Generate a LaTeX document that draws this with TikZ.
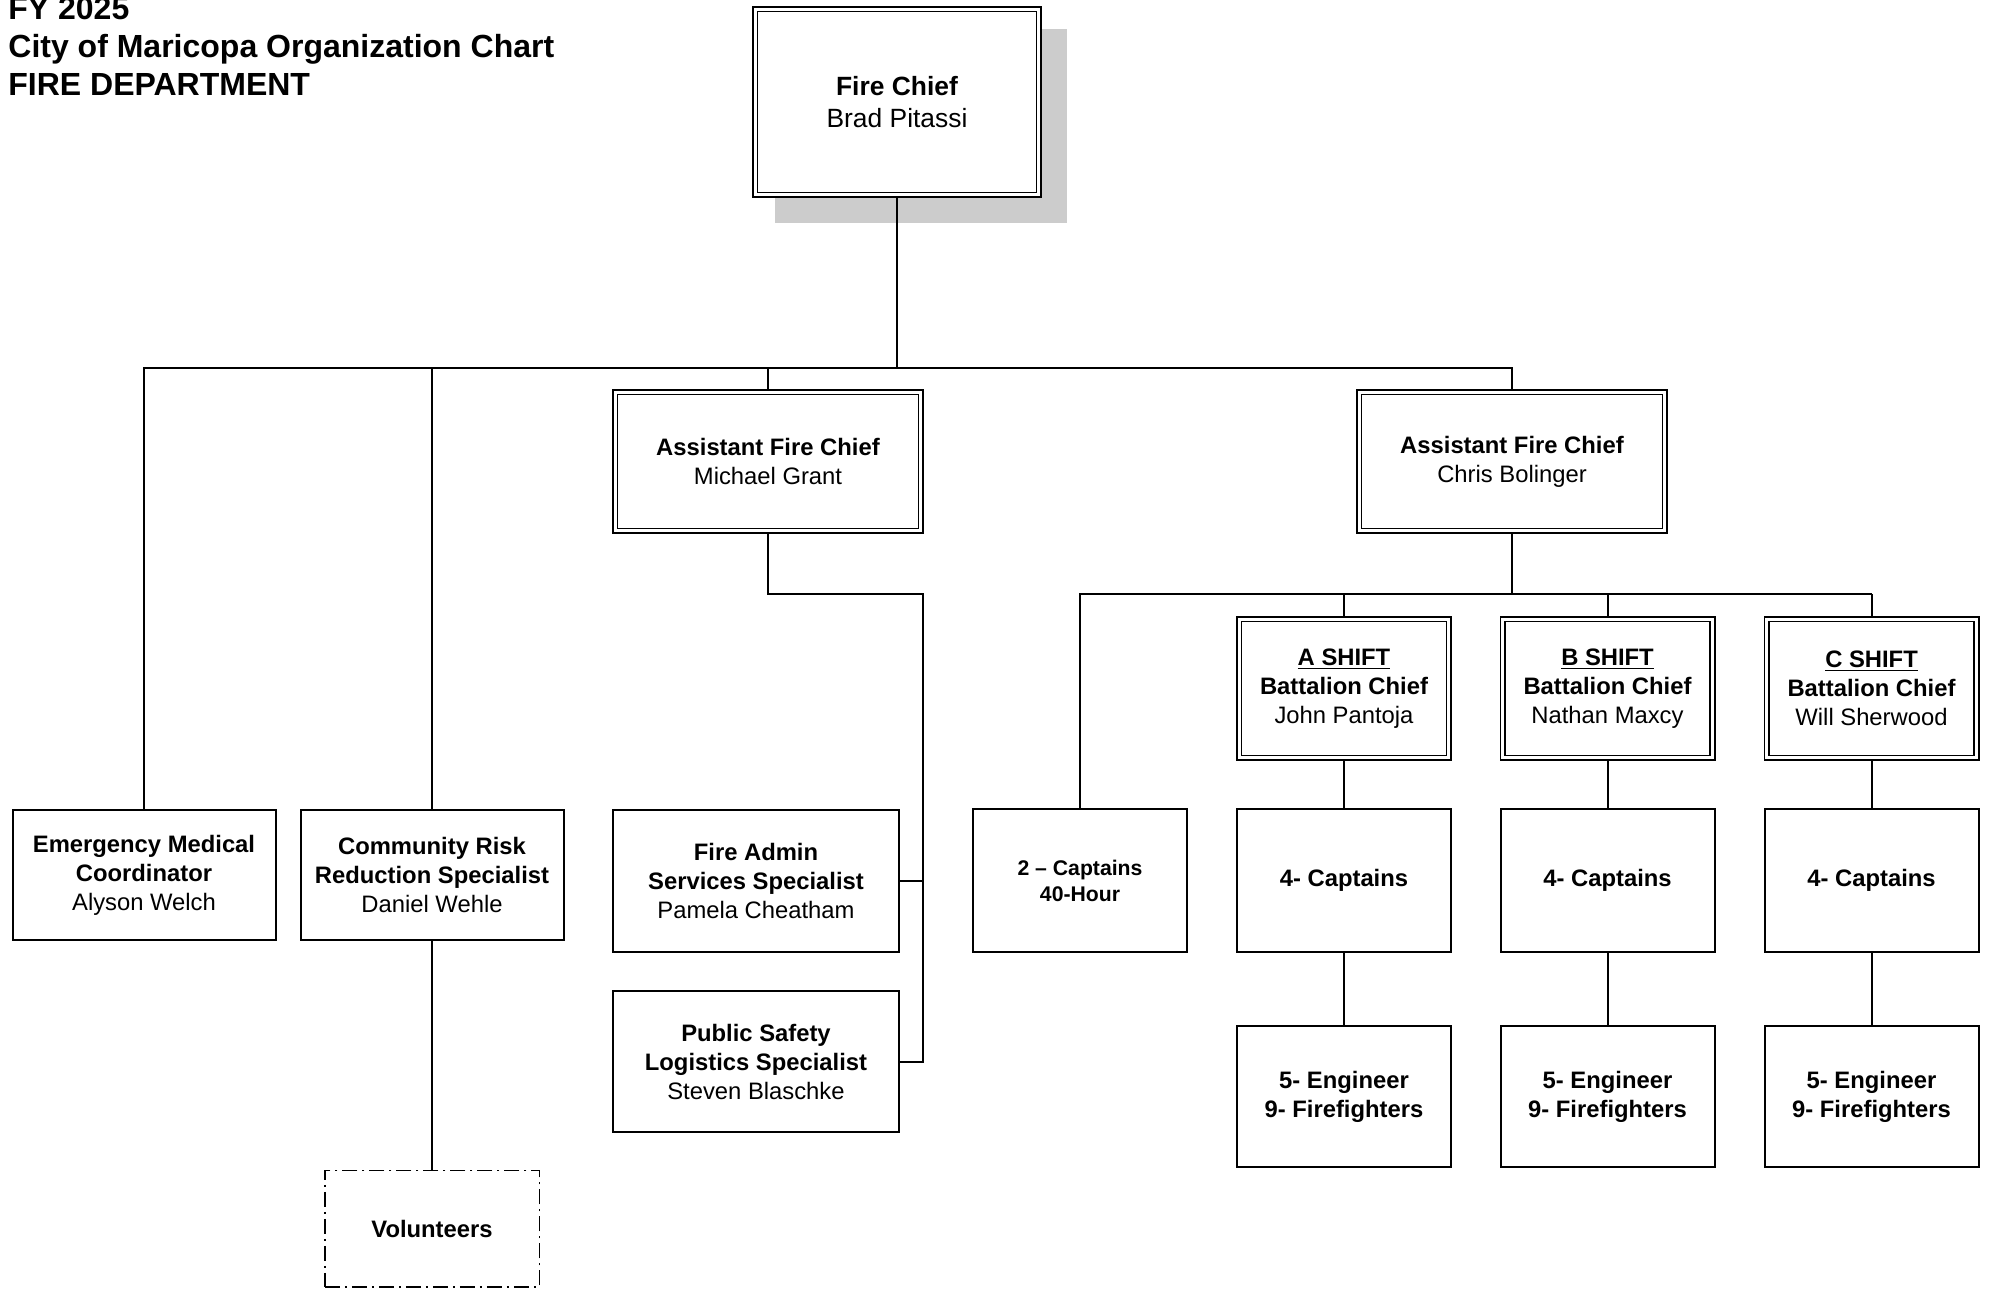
\documentclass[tikz,border=0pt]{standalone}
\usepackage{fontspec}
\setmainfont{Liberation Sans}
\usetikzlibrary{calc}
\usetikzlibrary{positioning}
\usetikzlibrary{backgrounds}

\definecolor{shadowgray}{HTML}{CCCCCC}

\newcommand{\bigtext}{\fontsize{13.2}{15.6}\selectfont}
\newcommand{\boxtext}{\fontsize{11.9}{14.5}\selectfont}
\newcommand{\smalltext}{\fontsize{10.6}{13}\selectfont}
\newcommand{\titletext}{\fontsize{16}{19}\selectfont\bfseries}

\tikzset{
  box/.style={draw, fill=white, line width=1pt, inner sep=0pt, align=center, font=\boxtext},
  dbox/.style={box, double, line width=0.9pt, double distance=1.4pt},
  volbox/.style={box, line width=0.75pt, dash pattern=on 7.5pt off 2.5pt on 1pt off 2.5pt},
  link/.style={line width=1pt},
}

\begin{document}
\begin{tikzpicture}[x=0.5pt, y=-0.5pt]

    \useasboundingbox (0,0) rectangle (1989,1290);

    \node[anchor=north west, align=left, inner sep=0pt, font=\titletext] (title) at (8,-3) {FY 2025\\City of Maricopa Organization Chart\\FIRE DEPARTMENT};

    \node[dbox, font=\bigtext, minimum width=141.8pt, minimum height=92.8pt] (chief) at (897,102) {\textbf{Fire Chief}\\Brad Pitassi};

    \node[dbox, minimum width=152.8pt, minimum height=69.3pt] (grant) at (768,461.5) {\textbf{Assistant Fire Chief}\\Michael Grant};
    \node[dbox, minimum width=152.8pt, minimum height=69.3pt] (bolinger) at (1512,461.5) {\textbf{Assistant Fire Chief}\\Chris Bolinger};

    \node[box, minimum width=131.5pt, minimum height=65pt] (ems) at (144,875) {\textbf{Emergency Medical}\\\textbf{Coordinator}\\Alyson Welch};
    \node[box, minimum width=131.5pt, minimum height=65pt] (crr) at (432,875) {\textbf{Community Risk}\\\textbf{Reduction Specialist}\\Daniel Wehle};
    \node[volbox, minimum width=107.25pt, minimum height=58.25pt] (volunteers) at (432,1228.5) {\textbf{Volunteers}};

    \node[box, minimum width=143pt, minimum height=71pt] (admin) at (756,881) {\textbf{Fire Admin}\\\textbf{Services Specialist}\\Pamela Cheatham};
    \node[box, minimum width=143pt, minimum height=70.5pt] (logistics) at (756,1061.5) {\textbf{Public Safety}\\\textbf{Logistics Specialist}\\Steven Blaschke};

    \node[box, font=\smalltext, minimum width=107pt, minimum height=71.5pt] (captains40) at (1080,880.5) {\textbf{2 -- Captains}\\\textbf{40-Hour}};

    \coordinate (bus) at (0,368);
    \coordinate (subbus) at (0,594);
    \coordinate (rail) at (923,594);

    % shifts
    \foreach \s/\x/\who in {A/1344/John Pantoja, B/1607.5/Nathan Maxcy, C/1871.5/Will Sherwood} {
        \node[dbox, minimum width=104.8pt, minimum height=69.3pt] (shift\s) at (\x,688.5) {\textbf{\underline{\s\ SHIFT}}\\\textbf{Battalion Chief}\\\who};
        \node[box, minimum width=107pt, minimum height=71.5pt] (capt\s) at (\x,880.5) {\textbf{4- Captains}};
        \node[box, minimum width=107pt, minimum height=70.5pt] (eng\s) at (\x,1096.5) {\textbf{5- Engineer}\\\textbf{9- Firefighters}};
        \begin{scope}[on background layer]
            \draw[link] (shift\s.north) -- (shift\s.north |- subbus);
            \draw[link] (shift\s.south) -- (capt\s.north);
            \draw[link] (capt\s.south) -- (eng\s.north);
        \end{scope}
    }

    \begin{scope}[on background layer]
        \fill[shadowgray] ($(chief.north west)+(20.8,20.8)$) rectangle ($(chief.south east)+(27.2,27.2)$);

        \draw[link, line width=1.3pt] (chief.south) -- (chief.south |- bus);
        \draw[link] (ems.north) -- (ems.north |- bus) -- (bolinger.north |- bus) -- (bolinger.north);
        \draw[link] (crr.north) -- (crr.north |- bus);
        \draw[link] (grant.north) -- (grant.north |- bus);
        \draw[link] (crr.south) -- (volunteers.north);

        \draw[link] (grant.south) -- (grant.south |- rail) -- (rail) -- (rail |- logistics.east) -- (logistics.east);
        \draw[link] (admin.east) -- (admin.east -| rail);

        \draw[link] (bolinger.south) -- (bolinger.south |- subbus);
        \draw[link] (captains40.north) -- (captains40.north |- subbus) -- (shiftC.north |- subbus);
    \end{scope}

\end{tikzpicture}
\end{document}
